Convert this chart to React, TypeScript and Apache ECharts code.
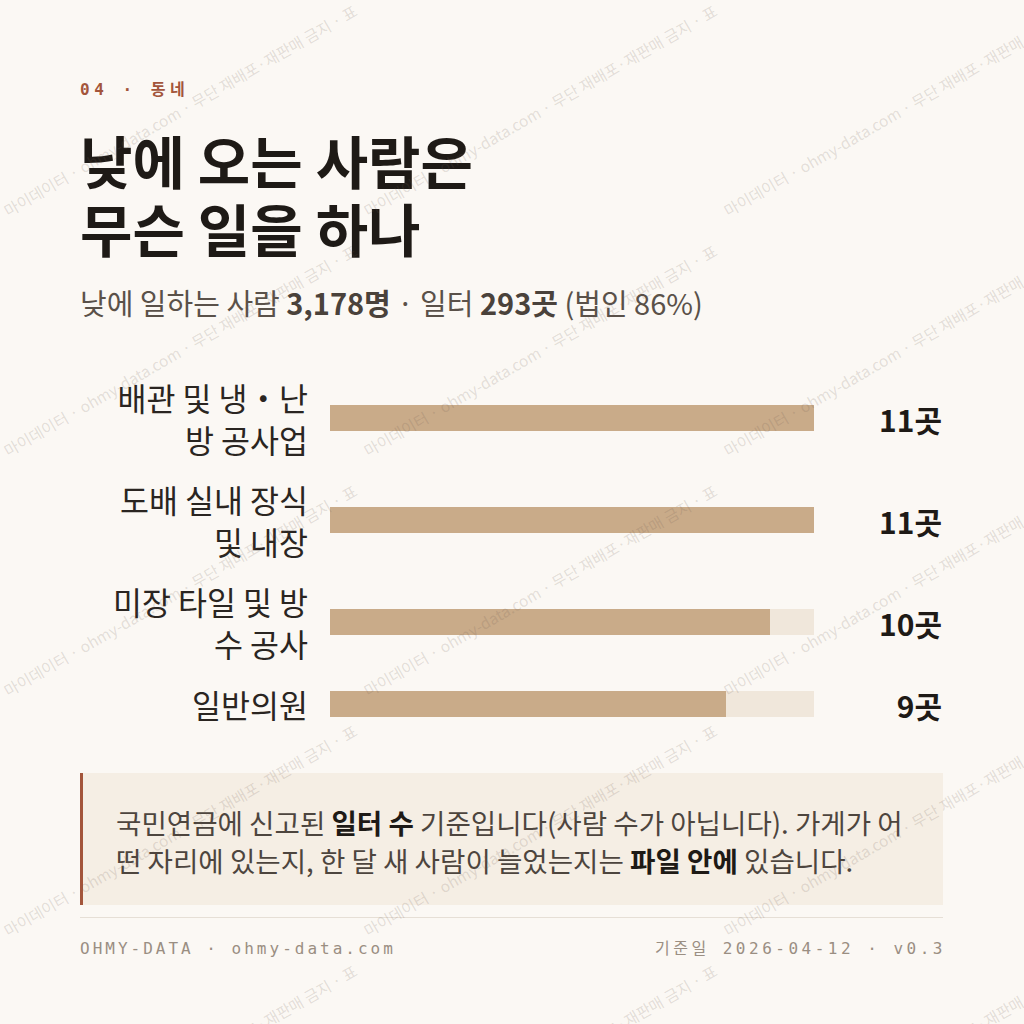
import React, { useEffect, useRef } from "react";
import * as echarts from "echarts";

const eyebrow = "04 · 동네";
const titleLines = ["낮에 오는 사람은", "무슨 일을 하나"];
const subtitleLead = "낮에 일하는 사람 ";
const workerCount = "3,178명";
const subtitleMid = " · 일터 ";
const workplaceCount = "293곳";
const subtitleTail = " (법인 86%)";
const categories = ["배관 및 냉・난\n방 공사업", "도배 실내 장식\n및 내장", "미장 타일 및 방\n수 공사", "일반의원"];
const counts = [11, 11, 10, 9];
const axisMax = 11;
const unit = "곳";
const noteLine1: [string, boolean][] = [["국민연금에 신고된 ", false], ["일터 수", true], [" 기준입니다(사람 수가 아닙니다). 가게가 어", false]];
const noteLine2: [string, boolean][] = [["떤 자리에 있는지, 한 달 새 사람이 늘었는지는 ", false], ["파일 안에", true], [" 있습니다.", false]];
const footerLeft = "OHMY-DATA · ohmy-data.com";
const footerRight = "기준일 2026-04-12 · v0.3";
const watermark = "마이데이터 · ohmy-data.com · 무단 재배포·재판매 금지 · 표";

const rowCenters = [418, 520, 622, 704];

const SANS = "'Noto Sans CJK KR', 'Noto Sans', sans-serif";
const MONO = "'DejaVu Sans Mono', 'Noto Sans CJK KR', monospace";
const BG = "#fbf8f4";
const RUST = "#a3553b";
const INK = "#1e1a16";
const SUB = "#5a5149";
const BAR = "#c9ab89";
const TRACK = "#f0e7db";
const LABEL = "#2a2521";
const NOTE_BG = "#f5eee4";
const NOTE_TXT = "#4d453e";
const FOOT = "#9a8e82";

function rich(parts: [string, boolean][]) {
  return parts.map(([t, b]) => `{${b ? "b" : "n"}|${t}}`).join("");
}

export default function App() {
  const ref = useRef<HTMLDivElement>(null);
  useEffect(() => {
    if (!ref.current) return;
    const chart = echarts.init(ref.current, null, { renderer: "svg", width: 1024, height: 1024 });

    const grids: any[] = [];
    const xAxes: any[] = [];
    const yAxes: any[] = [];
    const series: any[] = [];
    categories.forEach((cat, i) => {
      grids.push({ left: 330, width: 484, top: rowCenters[i] - 20, height: 40 });
      xAxes.push({ type: "value", gridIndex: i, min: 0, max: axisMax, show: false });
      yAxes.push({
        type: "category",
        gridIndex: i,
        data: [cat],
        axisLine: { show: false },
        axisTick: { show: false },
        axisLabel: { fontSize: 31.5, lineHeight: 42, color: LABEL, margin: 22, fontFamily: SANS },
      });
      series.push({
        type: "bar",
        xAxisIndex: i,
        yAxisIndex: i,
        data: [axisMax],
        barWidth: 26,
        barGap: "-100%",
        silent: true,
        itemStyle: { color: TRACK },
        z: 1,
        label: {
          show: true,
          position: "insideRight",
          distance: 0,
          offset: [128, 1],
          formatter: () => `${counts[i]}${unit}`,
          fontSize: 30,
          fontWeight: "bold",
          color: INK,
          fontFamily: SANS,
        },
      });
      series.push({
        type: "bar",
        xAxisIndex: i,
        yAxisIndex: i,
        data: [counts[i]],
        barWidth: 26,
        barGap: "-100%",
        itemStyle: { color: BAR },
        z: 2,
      });
    });

    const wm: any[] = [];
    for (let tx = 0; tx < 1024; tx += 360) {
      for (let ty = 0; ty < 1024; ty += 240) {
        wm.push({
          type: "text",
          x: tx + 180,
          y: ty + 110,
          rotation: Math.PI / 6,
          silent: true,
          z: 100,
          style: {
            text: watermark,
            fontSize: 15.5,
            fontFamily: SANS,
            fill: "rgba(110,90,80,0.18)",
            textAlign: "center",
            textVerticalAlign: "middle",
          },
        });
      }
    }

    const graphic: any[] = [
      { type: "rect", shape: { x: 0, y: 0, width: 1024, height: 1024 }, style: { fill: BG }, z: -10, silent: true },
      {
        type: "text", x: 80, y: 89,
        style: { text: eyebrow, fontSize: 16, fontWeight: "bold", fontFamily: MONO, fill: RUST, textVerticalAlign: "middle" },
      },
      {
        type: "text", x: 80, y: 193,
        style: {
          text: titleLines.join("\n"),
          fontSize: 57,
          lineHeight: 68,
          fontWeight: "bold",
          fontFamily: SANS,
          fill: INK,
          textVerticalAlign: "middle",
        },
      },
      {
        type: "text", x: 80, y: 302,
        style: {
          text: `{n|${subtitleLead}}{b|${workerCount}}{n|${subtitleMid}}{b|${workplaceCount}}{n|${subtitleTail}}`,
          textVerticalAlign: "middle",
          rich: {
            n: { fontSize: 29, fontFamily: SANS, fill: SUB },
            b: { fontSize: 29, fontFamily: SANS, fill: "#4a423b", fontWeight: "bold" },
          },
        },
      },
      { type: "rect", shape: { x: 80, y: 773, width: 863, height: 132 }, style: { fill: NOTE_BG }, silent: true },
      { type: "rect", shape: { x: 80, y: 773, width: 3, height: 132 }, style: { fill: RUST }, silent: true },
      ...[noteLine1, noteLine2].map((ln, i) => ({
        type: "text", x: 116, y: 822 + i * 38,
        style: {
          text: rich(ln),
          textVerticalAlign: "middle",
          rich: {
            n: { fontSize: 27.6, fontFamily: SANS, fill: NOTE_TXT },
            b: { fontSize: 27.6, fontFamily: SANS, fill: INK, fontWeight: "bold" },
          },
        },
      })),
      { type: "line", shape: { x1: 80, y1: 917.5, x2: 943, y2: 917.5 }, style: { stroke: "#e6dfd6", lineWidth: 1 }, silent: true },
      {
        type: "text", x: 80, y: 948,
        style: { text: footerLeft, fontSize: 16, fontFamily: MONO, fill: FOOT, textVerticalAlign: "middle" },
      },
      {
        type: "text", x: 946, y: 948,
        style: { text: footerRight, fontSize: 16, fontFamily: MONO, fill: FOOT, textAlign: "right", textVerticalAlign: "middle" },
      },
      ...wm,
    ];

    chart.setOption({
      animation: false,
      backgroundColor: BG,
      grid: grids,
      xAxis: xAxes,
      yAxis: yAxes,
      series,
      graphic,
    });

    const spacing: Record<string, number> = { [eyebrow]: 4.5, [footerLeft]: 3, [footerRight]: 3.5 };
    const applySpacing = () => {
      ref.current?.querySelectorAll("text").forEach((el) => {
        const s = spacing[el.textContent || ""];
        if (s) el.setAttribute("letter-spacing", String(s));
      });
    };
    applySpacing();
    const t = setTimeout(applySpacing, 50);

    return () => {
      clearTimeout(t);
      chart.dispose();
    };
  }, []);
  return <div ref={ref} style={{ position: "absolute", left: 0, top: 0, width: 1024, height: 1024 }} />;
}
